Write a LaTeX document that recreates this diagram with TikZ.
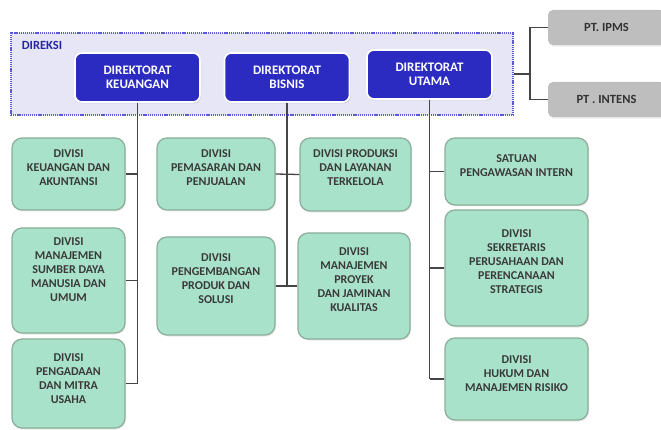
\documentclass[tikz,border=0pt]{standalone}
\usepackage{fontspec}
\setmainfont{Carlito}
\usetikzlibrary{shadows}
\definecolor{divfill}{HTML}{A8E2CA}
\definecolor{divdraw}{HTML}{8AAE9A}
\definecolor{divtext}{HTML}{3A3A3A}
\definecolor{dirblue}{HTML}{2B2BC2}
\definecolor{direkbg}{HTML}{E6E6F7}
\definecolor{direkline}{HTML}{5A5AD6}
\definecolor{direklabel}{HTML}{2626A6}
\definecolor{ptgray}{HTML}{BEBEBE}
\definecolor{conn}{HTML}{454545}
\tikzset{
  divbox/.style={draw=divdraw, line width=1.2pt, fill=divfill, rounded corners=10pt, inner sep=0pt,
    drop shadow={opacity=0.18, shadow xshift=1pt, shadow yshift=-1.5pt}},
  divtxt/.style={text=divtext, align=center, inner sep=0pt, font=\fontsize{12}{14}\selectfont\bfseries},
  dirbox/.style={draw=white, line width=1.6pt, fill=dirblue, rounded corners=7pt, inner sep=0pt,
    minimum width=125pt, minimum height=49pt, text=white, align=center,
    font=\fontsize{13}{13.5}\selectfont\bfseries,
    drop shadow={opacity=0.25, shadow xshift=1pt, shadow yshift=-1.5pt}},
  ptbox/.style={fill=ptgray, rounded corners=5pt, inner sep=0pt, minimum width=117pt, minimum height=35pt,
    text=black!80, font=\fontsize{12.5}{14}\selectfont\bfseries,
    drop shadow={opacity=0.2, shadow xshift=1pt, shadow yshift=-1.5pt}},
  connline/.style={draw=conn, line width=1.3pt},
}
\begin{document}
\begin{tikzpicture}[x=1pt,y=-1pt]
\useasboundingbox (0,0) rectangle (661,430);
% DIREKSI frame
\node[draw=direkline, fill=direkbg, line width=1.6pt, dash pattern=on 1.2pt off 0.9pt,
  minimum width=502pt, minimum height=82pt, inner sep=0pt] (direksi) at (262,74) {};
\node[text=direklabel, font=\fontsize{12.5}{14}\selectfont\bfseries, inner sep=0pt] (direklbl) at (42,45) {DIREKSI};

% PT boxes
\node[ptbox] (ipms) at (606.5,27.5) {PT. IPMS};
\node[ptbox] (intens) at (606.5,99.5) {PT . INTENS};
\coordinate (j) at (530,74);
\draw[connline] (direksi.east) -- (direksi.east -| j);
\draw[connline] (ipms.west) -- (ipms.west -| j) -- (intens.west -| j) -- (intens.west);

% division boxes
\node[divbox, minimum width=113pt, minimum height=72pt] (ka) at (68.5,174) {};
\node[divbox, minimum width=113pt, minimum height=105pt] (sdm) at (68.5,280.5) {};
\node[divbox, minimum width=113pt, minimum height=89pt] (pm) at (68.5,383.5) {};
\node[divbox, minimum width=118pt, minimum height=72pt] (pj) at (216,174) {};
\node[divbox, minimum width=118pt, minimum height=98pt] (pg) at (216,286) {};
\node[divbox, minimum width=111pt, minimum height=73pt] (pr) at (355.5,174.5) {};
\node[divbox, minimum width=112pt, minimum height=106pt] (mp) at (354,286) {};
\node[divbox, minimum width=143pt, minimum height=67pt] (spi) at (516.5,171.5) {};
\node[divbox, minimum width=143pt, minimum height=116pt] (sk) at (516.5,268) {};
\node[divbox, minimum width=143pt, minimum height=82pt] (hk) at (516.5,379) {};

% directorates
\node[dirbox] (dk) at (137.5,77.5) {DIREKTORAT\\KEUANGAN};
\node[dirbox] (db) at (287,77.5) {DIREKTORAT\\BISNIS};
\node[dirbox] (du) at (429.5,74.5) {DIREKTORAT\\UTAMA};

% connectors
\draw[connline] (dk.south) -- (dk.south |- pm.east);
\draw[connline] (ka.east) -- (ka.east -| dk.south);
\draw[connline] (sdm.east) -- (sdm.east -| dk.south);
\draw[connline] (pm.east) -- (pm.east -| dk.south);

\draw[connline] (db.south) -- (db.south |- pg.east);
\draw[connline] (pj.east) -- (pr.west);
\draw[connline] (pg.east) -- (mp.west);

\draw[connline] (du.south) -- (du.south |- hk.west);
\draw[connline] (spi.west) -- (spi.west -| du.south);
\draw[connline] (sk.west) -- (sk.west -| du.south);
\draw[connline] (hk.west) -- (hk.west -| du.south);

% division texts
\node[divtxt] (kat) at (68.5,168) {DIVISI\\KEUANGAN DAN\\AKUNTANSI};
\node[divtxt] (sdmt) at (68.5,270) {DIVISI\\MANAJEMEN\\SUMBER DAYA\\MANUSIA DAN\\UMUM};
\node[divtxt] (pmt) at (68.5,379) {DIVISI\\PENGADAAN\\DAN MITRA\\USAHA};
\node[divtxt] (pjt) at (216,168) {DIVISI\\PEMASARAN DAN\\PENJUALAN};
\node[divtxt] (pgt) at (216,279) {DIVISI\\PENGEMBANGAN\\PRODUK DAN\\SOLUSI};
\node[divtxt] (prt) at (355.5,168) {DIVISI PRODUKSI\\DAN LAYANAN\\TERKELOLA};
\node[divtxt] (mpt) at (354,280) {DIVISI\\MANAJEMEN\\PROYEK\\DAN JAMINAN\\KUALITAS};
\node[divtxt] (spit) at (516.5,166) {SATUAN\\PENGAWASAN INTERN};
\node[divtxt] (skt) at (516.5,262) {DIVISI\\SEKRETARIS\\PERUSAHAAN DAN\\PERENCANAAN\\STRATEGIS};
\node[divtxt] (hkt) at (516.5,374) {DIVISI\\HUKUM DAN\\MANAJEMEN RISIKO};
\end{tikzpicture}
\end{document}
